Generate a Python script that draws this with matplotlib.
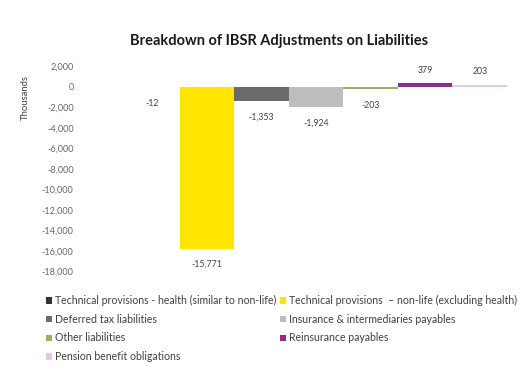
import numpy as np
import matplotlib.pyplot as plt
from matplotlib.ticker import FuncFormatter

plt.rcParams["font.family"] = ["Lato", "DejaVu Sans"]

# --- data ---
series = [
    "Technical provisions - health (similar to non-life)",
    "Technical provisions  \u2013 non-life (excluding health)",
    "Deferred tax liabilities",
    "Insurance & intermediaries payables",
    "Other liabilities",
    "Reinsurance payables",
    "Pension benefit obligations",
]
values = [-12, -15771, -1353, -1924, -203, 379, 203]
colors = ["#333333", "#FFE600", "#6b6b6b", "#BDBDBD", "#A8A86A", "#8E2C8E", "#E6C8EC"]

# --- plot ---
fig = plt.figure(figsize=(5.29, 3.83), dpi=100)
ax = fig.add_axes([125 / 529, 1 - 271.5 / 383, 382 / 529, 205 / 383])

x = np.arange(len(values))
handles = []
for i, (v, c, name) in enumerate(zip(values, colors, series)):
    b = ax.bar(x[i], v, width=1.0, color=c, label=name, edgecolor="none")
    handles.append(b)
    off = -16 if v < 0 else 13
    ax.annotate(f"{v:,}", (x[i], v), xytext=(0, off), textcoords="offset pixels",
                ha="center", va="center", fontsize=6.3, color="#404040")

ax.set_xlim(-0.5, len(values) - 0.5)
ax.set_ylim(-18000, 2000)
ax.set_yticks(np.arange(-18000, 2001, 2000))
ax.yaxis.set_major_formatter(FuncFormatter(lambda v, p: f"{int(v):,}"))
ax.tick_params(axis="y", length=0, labelsize=6.6, labelcolor="#666666", pad=37)
ax.set_xticks([])
for s in ax.spines.values():
    s.set_visible(False)

fig.text(25 / 529, 1 - 98 / 383, "Thousands", rotation=90, ha="center", va="center",
         fontsize=6.8, color="#404040")
fig.text(279 / 529, 1 - 41 / 383, "Breakdown of IBSR Adjustments on Liabilities",
         ha="center", va="center", fontsize=10.5, fontweight="bold", color="#1a1a1a")

# row-wise legend order, as in the original two-column layout
order = [0, 2, 4, 6, 1, 3, 5]
fig.legend(handles=[handles[k] for k in order], labels=[series[k] for k in order],
           ncol=2, loc="upper left", bbox_to_anchor=(42 / 529, 1 - 291 / 383),
           frameon=False, fontsize=7.6, handlelength=0.55, handleheight=0.55,
           handletextpad=0.3, columnspacing=0.3, labelspacing=0.72,
           labelcolor="#404040", borderaxespad=0)

fig.savefig("out.png", dpi=100)
